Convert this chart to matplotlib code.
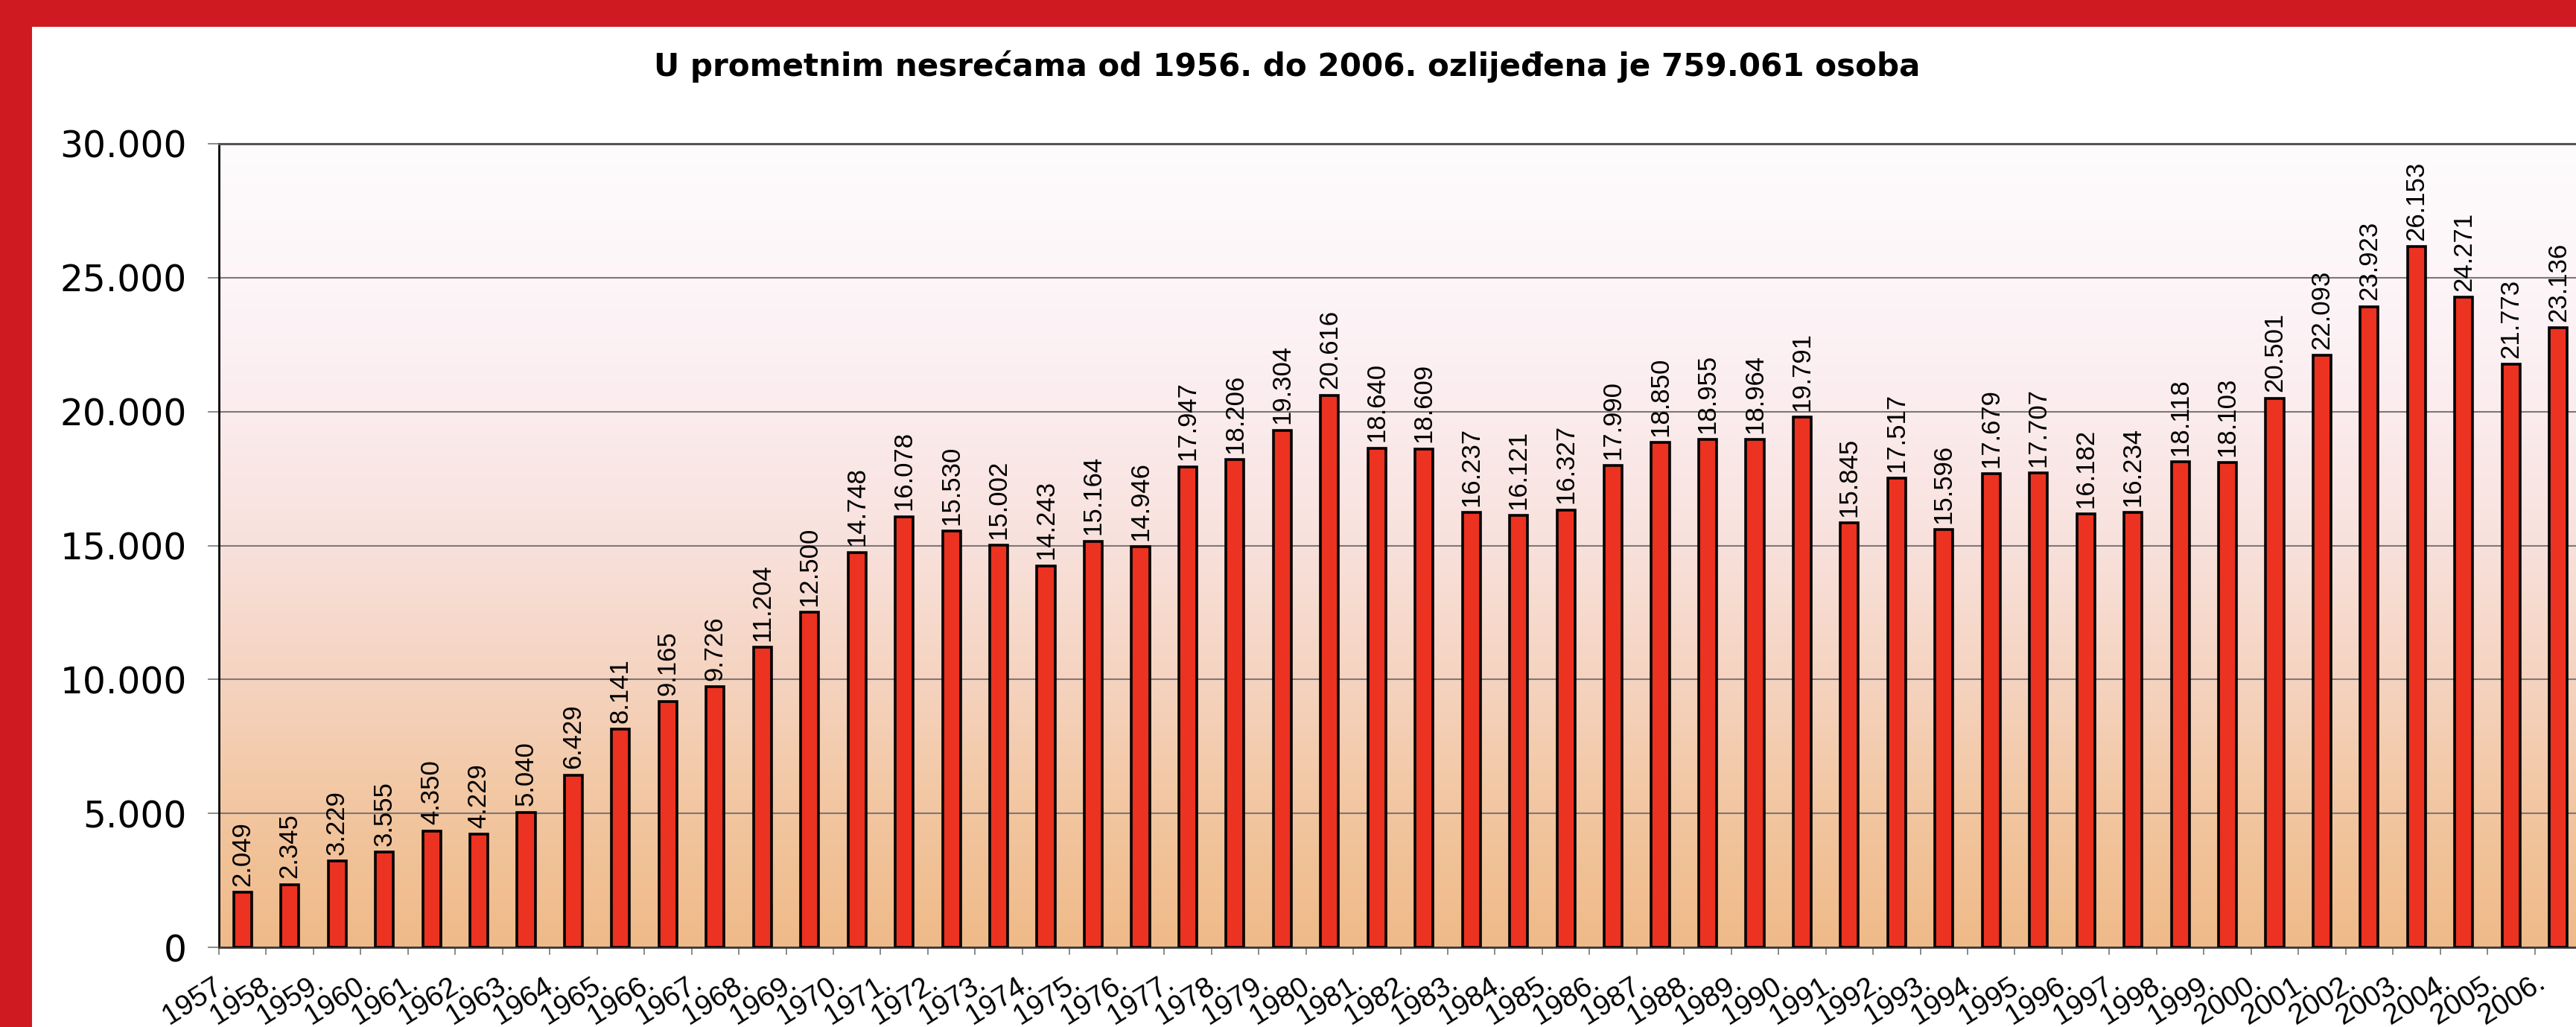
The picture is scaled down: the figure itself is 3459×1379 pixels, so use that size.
import matplotlib
matplotlib.use("Agg")
import matplotlib.pyplot as plt
import numpy as np
from matplotlib import font_manager
from matplotlib.colors import LinearSegmentedColormap
from matplotlib.patches import Rectangle
from matplotlib.transforms import ScaledTranslation

# ---------------- data ----------------
title = "U prometnim nesrećama od 1956. do 2006. ozlijeđena je 759.061 osoba"
years = [f"{y}." for y in range(1957, 2007)]
injured = [2049, 2345, 3229, 3555, 4350, 4229, 5040, 6429, 8141, 9165,
           9726, 11204, 12500, 14748, 16078, 15530, 15002, 14243, 15164, 14946,
           17947, 18206, 19304, 20616, 18640, 18609, 16237, 16121, 16327, 17990,
           18850, 18955, 18964, 19791, 15845, 17517, 15596, 17679, 17707, 16182,
           16234, 18118, 18103, 20501, 22093, 23923, 26153, 24271, 21773, 23136]
y_ticks = [0, 5000, 10000, 15000, 20000, 25000, 30000]
y_tick_labels = ["0", "5.000", "10.000", "15.000", "20.000", "25.000", "30.000"]

# ---------------- fonts ----------------
avail = {f.name for f in font_manager.fontManager.ttflist}
narrow = "Liberation Sans Narrow" if "Liberation Sans Narrow" in avail else "Liberation Sans"

W, H = 3459, 1379
fig = plt.figure(figsize=(W / 100, H / 100), dpi=100)
fig.patch.set_facecolor("white")

# red frame (top and left)
red = "#cf1a22"
fig.patches.append(Rectangle((0, 1 - 36 / H), 1, 36 / H, transform=fig.transFigure,
                             facecolor=red, edgecolor="none", zorder=10))
fig.patches.append(Rectangle((0, 0), 43 / W, 1, transform=fig.transFigure,
                             facecolor=red, edgecolor="none", zorder=10))

left_px, right_px, top_px, base_px = 294, 3467, 193, 1272
ax = fig.add_axes([left_px / W, (H - base_px) / H,
                   (right_px - left_px) / W, (base_px - top_px) / H])

n = len(injured)
x = np.arange(n)
ax.set_xlim(-0.5, n - 0.5)
ax.set_ylim(0, 30000)

# gradient background
cmap = LinearSegmentedColormap.from_list("bg", [
    (0.00, "#efba88"), (0.17, "#f2c6a0"), (0.33, "#f5d3bf"),
    (0.50, "#f8e1dc"), (0.67, "#fbecee"), (0.83, "#fdf5f8"), (1.00, "#fefcfd")])
grad = np.linspace(0, 1, 256).reshape(-1, 1)
ax.imshow(grad, extent=[-0.5, n - 0.5, 0, 30000], origin="lower",
          aspect="auto", cmap=cmap, zorder=0)

# grid
ax.set_axisbelow(True)
ax.yaxis.grid(True, color="#7d7878", linewidth=1.5)
ax.set_yticks(y_ticks)
ax.set_yticklabels(y_tick_labels, fontsize=35, family="DejaVu Sans")
ax.tick_params(axis="y", direction="out", length=11, width=1.2, color="#777777", pad=20)

# bars
ax.bar(x, injured, width=0.38, color="#ec3220", edgecolor="black",
       linewidth=2.6, zorder=3)
for xi, v in zip(x, injured):
    ax.annotate(f"{v:,}".replace(",", "."), (xi, v), xytext=(0, 6),
                textcoords="offset points", rotation=90, ha="center", va="bottom",
                fontsize=25, family=narrow, color="black", zorder=4)

# x ticks: labels at centres, tick marks at boundaries
ax.set_xticks(x)
ax.set_xticklabels(years, fontsize=28, family="Liberation Sans")
ax.tick_params(axis="x", which="major", length=0, pad=38)
ax.set_xticks(np.arange(n + 1) - 0.5, minor=True)
ax.tick_params(axis="x", which="minor", direction="out", length=7, width=1.2, color="#777777")
off = ScaledTranslation(-0.16, 0, fig.dpi_scale_trans)
for lab in ax.get_xticklabels():
    lab.set_rotation(32)
    lab.set_ha("right")
    lab.set_va("baseline")
    lab.set_rotation_mode("anchor")
    lab.set_transform(lab.get_transform() + off)

# spines
ax.spines["left"].set_color("black")
ax.spines["left"].set_linewidth(2.0)
ax.spines["bottom"].set_color("#3a3a3a")
ax.spines["bottom"].set_linewidth(2.0)
ax.spines["top"].set_color("#555555")
ax.spines["top"].set_linewidth(2.2)
ax.spines["right"].set_visible(False)

# title, fitted to its width in the reference
t = fig.text(0.4995, 1 - 102 / H, title, ha="center", va="baseline",
             fontsize=30, fontweight="bold", family="DejaVu Sans")
fig.canvas.draw()
w = t.get_window_extent().width
t.set_fontsize(30 * 1700 / w)

fig.savefig("out.png", dpi=100, facecolor="white")
